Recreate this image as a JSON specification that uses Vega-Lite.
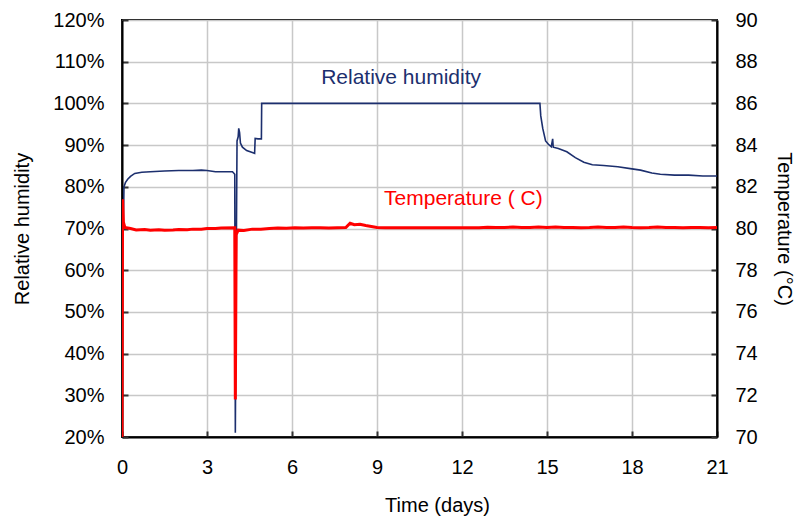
{
  "$schema": "https://vega.github.io/schema/vega-lite/v6.json",
  "width": 595,
  "height": 417,
  "autosize": "none",
  "padding": {"left": 122, "top": 20, "right": 80, "bottom": 83},
  "background": "white",
  "config": {
    "font": "Liberation Sans",
    "view": {"stroke": "black", "strokeWidth": 2},
    "axis": {
      "labelFont": "Liberation Sans",
      "titleFont": "Liberation Sans",
      "labelFontSize": 20,
      "titleFontSize": 20,
      "labelColor": "black",
      "titleColor": "black",
      "titleFontWeight": "normal",
      "labelFlush": false,
      "labelOverlap": false,
      "domainColor": "black",
      "domainWidth": 2,
      "tickColor": "#333333",
      "tickWidth": 2,
      "tickSize": -6,
      "gridColor": "#c8c8c8",
      "gridWidth": 1.5
    }
  },
  "datasets": {
    "rh": [
      {"day": 0.05, "rh": 71.5},
      {"day": 0.07, "rh": 80},
      {"day": 0.12, "rh": 81},
      {"day": 0.2, "rh": 81.8},
      {"day": 0.3, "rh": 82.5},
      {"day": 0.45, "rh": 83.2},
      {"day": 0.7, "rh": 83.5},
      {"day": 1.0, "rh": 83.6},
      {"day": 1.5, "rh": 83.8},
      {"day": 2.0, "rh": 83.9},
      {"day": 2.5, "rh": 83.9},
      {"day": 2.8, "rh": 84.0},
      {"day": 3.0, "rh": 83.9},
      {"day": 3.3, "rh": 83.6},
      {"day": 3.9, "rh": 83.6},
      {"day": 3.98, "rh": 83},
      {"day": 4.0, "rh": 21},
      {"day": 4.03, "rh": 60},
      {"day": 4.06, "rh": 91},
      {"day": 4.1, "rh": 92},
      {"day": 4.12, "rh": 94},
      {"day": 4.15, "rh": 93},
      {"day": 4.18, "rh": 90.5},
      {"day": 4.25, "rh": 89.5},
      {"day": 4.4, "rh": 88.7},
      {"day": 4.6, "rh": 88.2},
      {"day": 4.68, "rh": 88},
      {"day": 4.7, "rh": 91.6},
      {"day": 4.8, "rh": 91.5},
      {"day": 4.92, "rh": 91.5},
      {"day": 4.93, "rh": 100},
      {"day": 14.75, "rh": 100},
      {"day": 14.78, "rh": 97},
      {"day": 14.85, "rh": 94},
      {"day": 14.95, "rh": 91},
      {"day": 15.05, "rh": 90.2},
      {"day": 15.15, "rh": 89.6},
      {"day": 15.2, "rh": 91.5},
      {"day": 15.22, "rh": 89.5},
      {"day": 15.4, "rh": 89.2},
      {"day": 15.7, "rh": 88.4},
      {"day": 16.0, "rh": 87},
      {"day": 16.3, "rh": 85.9},
      {"day": 16.6, "rh": 85.3},
      {"day": 17.0, "rh": 85.1},
      {"day": 17.5, "rh": 84.8},
      {"day": 18.0, "rh": 84.3},
      {"day": 18.3, "rh": 84.0},
      {"day": 18.7, "rh": 83.3},
      {"day": 19.0, "rh": 83.0},
      {"day": 19.5, "rh": 82.8},
      {"day": 20.0, "rh": 82.8},
      {"day": 20.5, "rh": 82.6},
      {"day": 21.0, "rh": 82.6}
    ],
    "temp": [
      {"day": 0.0, "t": 70},
      {"day": 0.02, "t": 81.4},
      {"day": 0.05, "t": 80.3},
      {"day": 0.1, "t": 80.05},
      {"day": 0.3, "t": 80.0},
      {"day": 0.5, "t": 79.93},
      {"day": 0.8, "t": 79.95},
      {"day": 1.0, "t": 79.92},
      {"day": 1.3, "t": 79.94},
      {"day": 1.5, "t": 79.92},
      {"day": 1.8, "t": 79.93},
      {"day": 2.0, "t": 79.95},
      {"day": 2.3, "t": 79.94},
      {"day": 2.5, "t": 79.97},
      {"day": 2.8, "t": 79.97},
      {"day": 3.0, "t": 80.0},
      {"day": 3.3, "t": 80.0},
      {"day": 3.5, "t": 80.02},
      {"day": 3.98, "t": 80.03},
      {"day": 4.0, "t": 71.8},
      {"day": 4.03, "t": 79.7},
      {"day": 4.1, "t": 79.92},
      {"day": 4.3, "t": 79.9},
      {"day": 4.6, "t": 79.97},
      {"day": 4.9, "t": 79.97},
      {"day": 5.2, "t": 80.0},
      {"day": 5.5, "t": 80.02},
      {"day": 5.8, "t": 80.01},
      {"day": 6.1, "t": 80.03},
      {"day": 6.4, "t": 80.02},
      {"day": 6.7, "t": 80.03},
      {"day": 7.0, "t": 80.03},
      {"day": 7.3, "t": 80.02},
      {"day": 7.6, "t": 80.04},
      {"day": 7.9, "t": 80.05},
      {"day": 8.05, "t": 80.25},
      {"day": 8.2, "t": 80.18},
      {"day": 8.4, "t": 80.2},
      {"day": 8.6, "t": 80.14},
      {"day": 8.8, "t": 80.1},
      {"day": 9.0, "t": 80.05},
      {"day": 9.3, "t": 80.04},
      {"day": 9.6, "t": 80.03},
      {"day": 9.9, "t": 80.04},
      {"day": 10.2, "t": 80.04},
      {"day": 10.5, "t": 80.03},
      {"day": 10.8, "t": 80.04},
      {"day": 11.1, "t": 80.04},
      {"day": 11.4, "t": 80.03},
      {"day": 11.7, "t": 80.04},
      {"day": 12.0, "t": 80.04},
      {"day": 12.3, "t": 80.03},
      {"day": 12.6, "t": 80.04},
      {"day": 12.9, "t": 80.06},
      {"day": 13.2, "t": 80.05},
      {"day": 13.5, "t": 80.05},
      {"day": 13.8, "t": 80.07},
      {"day": 14.1, "t": 80.05},
      {"day": 14.4, "t": 80.05},
      {"day": 14.7, "t": 80.07},
      {"day": 15.0, "t": 80.05},
      {"day": 15.3, "t": 80.07},
      {"day": 15.6, "t": 80.05},
      {"day": 15.9, "t": 80.05},
      {"day": 16.2, "t": 80.04},
      {"day": 16.5, "t": 80.05},
      {"day": 16.8, "t": 80.07},
      {"day": 17.1, "t": 80.05},
      {"day": 17.4, "t": 80.05},
      {"day": 17.7, "t": 80.07},
      {"day": 18.0, "t": 80.05},
      {"day": 18.3, "t": 80.04},
      {"day": 18.6, "t": 80.05},
      {"day": 18.9, "t": 80.07},
      {"day": 19.2, "t": 80.05},
      {"day": 19.5, "t": 80.05},
      {"day": 19.8, "t": 80.04},
      {"day": 20.1, "t": 80.05},
      {"day": 20.4, "t": 80.05},
      {"day": 20.7, "t": 80.04},
      {"day": 21.0, "t": 80.05}
    ],
    "rhLabel": [{"day": 9.85, "rh": 106, "label": "Relative humidity"}],
    "tLabel": [{"day": 12.05, "t": 81.4, "label": "Temperature ( C)"}]
  },
  "encoding": {
    "x": {
      "field": "day",
      "type": "quantitative",
      "scale": {"domain": [0, 21], "nice": false, "zero": false},
      "axis": {
        "title": "Time (days)",
        "values": [0, 3, 6, 9, 12, 15, 18, 21],
        "labelPadding": 26,
        "titlePadding": 18,
        "titleX": 315,
        "titleAlign": "center",
        "grid": true
      }
    }
  },
  "layer": [
    {
      "encoding": {
        "y": {
          "field": "rh",
          "type": "quantitative",
          "scale": {"domain": [20, 120], "nice": false, "zero": false},
          "axis": {
            "title": "Relative humidity",
            "values": [20, 30, 40, 50, 60, 70, 80, 90, 100, 110, 120],
            "labelExpr": "datum.value + '%'",
            "labelPadding": 24,
            "titlePadding": 20,
            "grid": true
          }
        }
      },
      "layer": [
        {
          "data": {"name": "rh"},
          "mark": {"type": "line", "color": "#1c2f6e", "strokeWidth": 1.6, "clip": true}
        },
        {
          "data": {"name": "rhLabel"},
          "mark": {"type": "text", "color": "#1c2f6e", "fontSize": 21, "font": "Liberation Sans"},
          "encoding": {"text": {"field": "label"}}
        }
      ]
    },
    {
      "encoding": {
        "y": {
          "field": "t",
          "type": "quantitative",
          "scale": {"domain": [70, 90], "nice": false, "zero": false},
          "axis": {
            "orient": "right",
            "title": "Temperature (°C)",
            "values": [70, 72, 74, 76, 78, 80, 82, 84, 86, 88, 90],
            "labelPadding": 24,
            "titlePadding": 16,
            "grid": false
          }
        }
      },
      "layer": [
        {
          "data": {"name": "temp"},
          "mark": {"type": "line", "color": "#ff0000", "strokeWidth": 3, "clip": true}
        },
        {
          "data": {"name": "tLabel"},
          "mark": {"type": "text", "color": "#ff0000", "fontSize": 21, "font": "Liberation Sans"},
          "encoding": {"text": {"field": "label"}}
        }
      ]
    }
  ],
  "resolve": {"scale": {"y": "independent"}}
}
